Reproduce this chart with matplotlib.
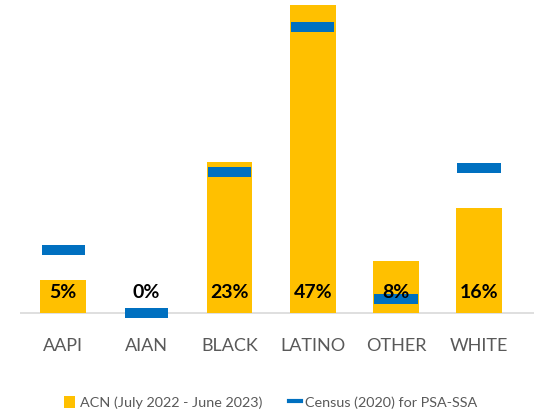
import numpy as np
import matplotlib.pyplot as plt
from matplotlib.patches import Patch
from matplotlib.lines import Line2D

plt.rcParams['font.family'] = ['Lato', 'DejaVu Sans']

# groups and shares (%)
groups = ['AAPI', 'AIAN', 'BLACK', 'LATINO', 'OTHER', 'WHITE']
acn_pct = [5, 0, 23, 47, 8, 16]
census_pct = [9.7, 0.0, 21.6, 43.7, 2.1, 22.2]

acn_label = 'ACN (July 2022 - June 2023)'
census_label = 'Census (2020) for PSA-SSA'

yellow = '#FFC000'
blue = '#0070C0'
grey = '#595959'

x = np.arange(len(groups))

fig = plt.figure(figsize=(5.36, 4.12), dpi=100)
ax = fig.add_axes([0.0373, 0.228, 0.959, 0.772])

ax.bar(x, acn_pct, width=0.55, color=yellow, zorder=2)
ax.hlines(census_pct, x - 0.26, x + 0.26, colors=blue, linewidth=7.2,
          zorder=3, clip_on=False)

for xi, v in zip(x, acn_pct):
    ax.annotate('{}%'.format(v), (xi, 0), xytext=(0, 15), textcoords='offset points',
                ha='center', va='center', fontsize=14, fontweight='bold',
                color='black', zorder=4)

ax.axhline(0, color='#d9d9d9', linewidth=1.2, zorder=1)

ax.set_xlim(-0.52, 5.66)
ax.set_ylim(-0.76, 47.8)
ax.set_yticks([])
ax.set_xticks(x)
ax.set_xticklabels(groups, fontsize=13, color=grey)
ax.tick_params(axis='x', length=0, pad=14)
for s in ax.spines.values():
    s.set_visible(False)

handles = [Patch(facecolor=yellow, edgecolor='none'),
           Line2D([0], [0], color=blue, linewidth=3)]
fig.legend(handles, [acn_label, census_label], loc='center',
           bbox_to_anchor=(0.505, 0.024), ncol=2, frameon=False,
           fontsize=10.4, labelcolor=grey, handlelength=0.8, handleheight=0.9,
           handletextpad=0.3, columnspacing=1.9)

fig.savefig('out.png', dpi=100)
